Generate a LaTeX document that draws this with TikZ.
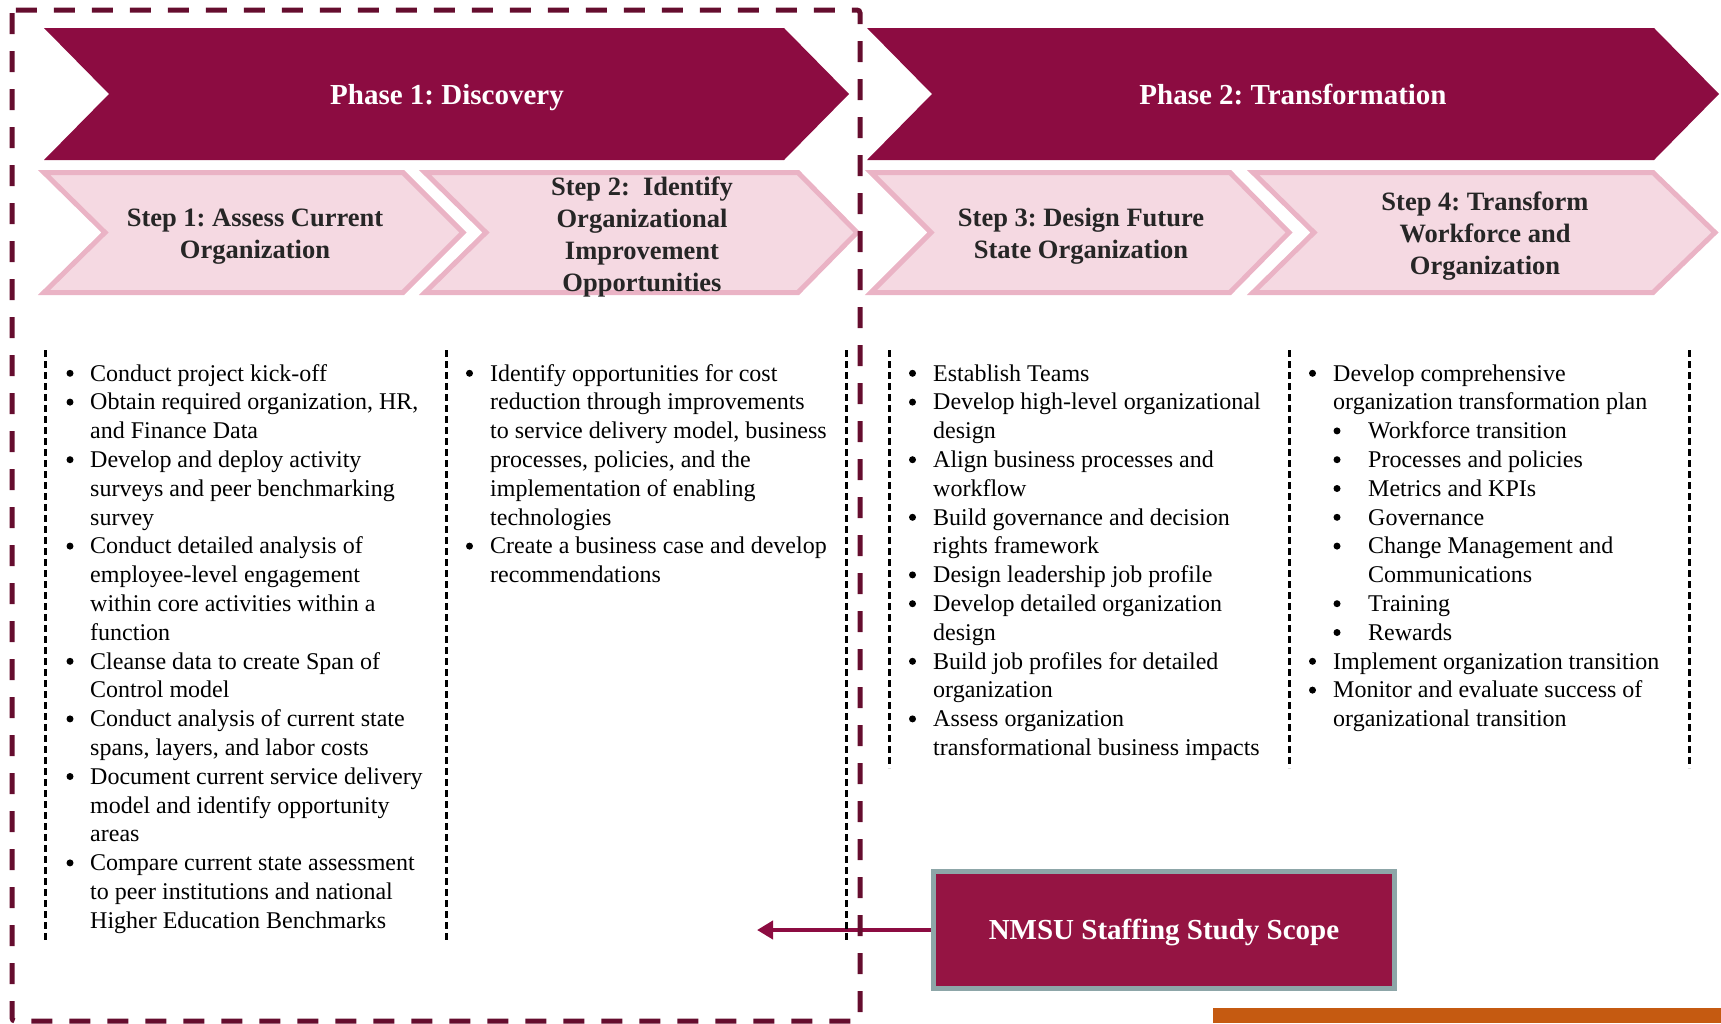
\documentclass[tikz,border=0pt]{standalone}
\usepackage{fontspec}
\setmainfont{Liberation Serif}
\usetikzlibrary{arrows.meta}

\definecolor{phasefill}{HTML}{8C0C41}
\definecolor{scopeline}{HTML}{650D2E}
\definecolor{stepfill}{HTML}{F5D9E2}
\definecolor{stepline}{HTML}{EAB3C5}
\definecolor{steptext}{HTML}{262626}
\definecolor{scopefill}{HTML}{951443}
\definecolor{scopeedge}{HTML}{8DA6A8}
\definecolor{barorange}{HTML}{C55A11}

% list items with hanging indents; the bullet dots are drawn separately
\newlength\bulind
\setlength\bulind{22pt}
\newcommand\bitem[1]{\par\noindent\hangindent=\bulind\hangafter=1\hspace*{\bulind}#1}
\newcommand\sitem[1]{\par\noindent\hangindent=57pt\hangafter=1\hspace*{57pt}#1}
\newcommand\colbox[1]{\vtop{\hsize=360pt\parindent=0pt\parskip=0pt\fontsize{24}{28.8}\selectfont #1\par}}

% chevron: style, left x, notch x, corner x, tip x, top y, bottom y
\newcommand\chevron[7]{%
  \path[#1] (#2,#6) -- (#4,#6) -- (#5,{(#6+#7)/2}) -- (#4,#7) -- (#2,#7) -- (#3,{(#6+#7)/2}) -- cycle;}

\tikzset{
  phasebox/.style={fill=phasefill},
  stepbox/.style={fill=stepfill, draw=stepline, line width=5pt, line join=miter},
  phasetitle/.style={anchor=base, text=white, font=\bfseries\fontsize{29}{34}\selectfont, inner sep=0pt},
  steptitle/.style={text=steptext, align=center, font=\bfseries\fontsize{26.5}{32}\selectfont, inner sep=0pt},
  colbody/.style={anchor=base west, inner sep=0pt, text=black},
  bulletdot/.style={fill=black},
  sepline/.style={draw=black, line width=3pt, dash pattern=on 7pt off 4pt},
  scopeframe/.style={draw=scopeline, line width=5pt, dash pattern=on 21pt off 17pt, rounded corners=3pt},
  scopenode/.style={fill=scopefill, draw=scopeedge, line width=5pt, minimum width=461pt, minimum height=117pt,
    text height=19.2pt, text depth=0pt, text=white, font=\bfseries\fontsize{29}{34}\selectfont},
  pointer/.style={draw=phasefill, line width=4pt, -{Triangle[length=16pt,width=18pt]}}
}

\begin{document}
\frenchspacing
\begin{tikzpicture}[x=1pt,y=-1pt]
\useasboundingbox (0,0) rectangle (1721,1023);

% phase banners
\chevron{phasebox}{44}{109}{784}{849}{28}{160}
\chevron{phasebox}{867}{932}{1654}{1719}{28}{160}
\node[phasetitle] (phase1) at (447,104) {Phase 1: Discovery};
\node[phasetitle] (phase2) at (1293,104) {Phase 2: Transformation};

% step banners
\chevron{stepbox}{44}{105}{403}{463}{172.5}{292.5}
\chevron{stepbox}{425}{486}{798}{857}{172.5}{292.5}
\chevron{stepbox}{871}{931}{1230}{1289}{172.5}{292.5}
\chevron{stepbox}{1253}{1314}{1653}{1715}{172.5}{292.5}
\node[steptitle] (step1) at (255,236.5) {Step 1: Assess Current\\Organization};
\node[steptitle] (step2) at (642,236.5) {Step 2:\ \ Identify\\Organizational\\Improvement\\Opportunities};
\node[steptitle] (step3) at (1081,236.5) {Step 3: Design Future\\State Organization};
\node[steptitle] (step4) at (1485,236.5) {Step 4: Transform\\Workforce and\\Organization};

% activity lists
\node[colbody] (list1) at (68,381) {\colbox{%
\bitem{Conduct project kick-off}
\bitem{Obtain required organization, HR,\newline and Finance Data}
\bitem{Develop and deploy activity\newline surveys and peer benchmarking\newline survey}
\bitem{Conduct detailed analysis of\newline employee-level engagement\newline within core activities within a\newline function}
\bitem{Cleanse data to create Span of\newline Control model}
\bitem{Conduct analysis of current state\newline spans, layers, and labor costs}
\bitem{Document current service delivery\newline model and identify opportunity\newline areas}
\bitem{Compare current state assessment\newline to peer institutions and national\newline Higher Education Benchmarks}}};

\node[colbody] (list2) at (468,381) {\colbox{%
\bitem{Identify opportunities for cost\newline reduction through improvements\newline to service delivery model, business\newline processes, policies, and the\newline implementation of enabling\newline technologies}
\bitem{Create a business case and develop\newline recommendations}}};

\node[colbody] (list3) at (911,381) {\colbox{%
\bitem{Establish Teams}
\bitem{Develop high-level organizational\newline design}
\bitem{Align business processes and\newline workflow}
\bitem{Build governance and decision\newline rights framework}
\bitem{Design leadership job profile}
\bitem{Develop detailed organization\newline design}
\bitem{Build job profiles for detailed\newline organization}
\bitem{Assess organization\newline transformational business impacts}}};

\node[colbody] (list4) at (1311,381) {\colbox{%
\bitem{Develop comprehensive\newline organization transformation plan}
\sitem{Workforce transition}
\sitem{Processes and policies}
\sitem{Metrics and KPIs}
\sitem{Governance}
\sitem{Change Management and\newline Communications}
\sitem{Training}
\sitem{Rewards}
\bitem{Implement organization transition}
\bitem{Monitor and evaluate success of\newline organizational transition}}};

% bullet dots: column x and the line numbers that open an item
\foreach \bx/\blines in {70/{0,1,3,6,10,12,14,17}, 469.5/{0,6},
                         912.5/{0,1,3,5,7,8,10,12}, 1312.5/{0,10,11},
                         1337/{2,3,4,5,6,8,9}}{
  \foreach \n in \blines
    \fill[bulletdot] (\bx,{381+28.8*\n-7.7}) circle[radius=3.5pt];
}

% scope box and its pointer
\node[scopenode] (scope) at (1164,930) {NMSU Staffing Study Scope};
\coordinate (pointtip) at (757,930);
\draw[pointer] (scope.west) -- (pointtip);

% column separators
\foreach \sx in {45,446,846} \draw[sepline] (\sx,350) -- (\sx,943);
\foreach \sx in {889,1289,1689} \draw[sepline] (\sx,350) -- (\sx,768);

% study scope frame
\draw[scopeframe] (12,10) rectangle (860,1021);

% footer bar
\fill[barorange] (1213,1008) rectangle (1721,1023);
\end{tikzpicture}
\end{document}
